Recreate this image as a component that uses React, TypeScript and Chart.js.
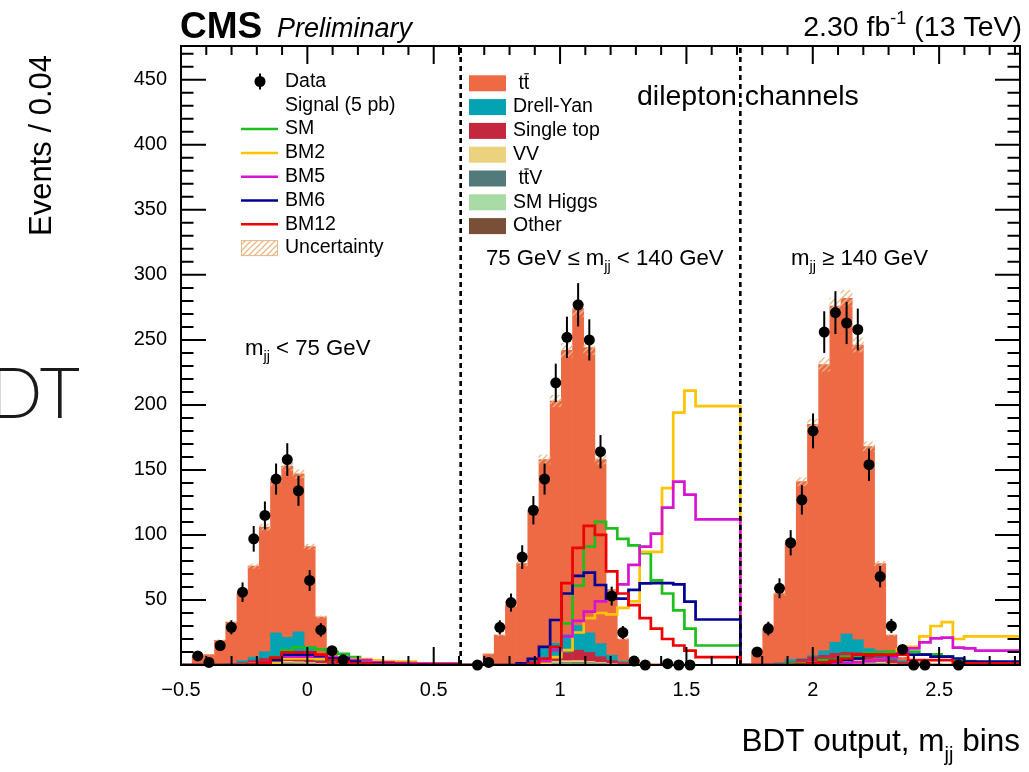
import { useEffect, useRef } from "react";
import { Chart, registerables } from "chart.js";

Chart.register(...registerables);

// ---- binning: three m_jj regions, 25 BDT bins each ----
const X_MIN = -0.5;
const X_MAX = 2.82;
const N_BINS = 75;
const Y_MAX = 476;
const BIN_W = (X_MAX - X_MIN) / N_BINS;

const X_TICK_VALUES = [-0.5, 0, 0.5, 1, 1.5, 2, 2.5];
const X_TICK_LABELS = ["\u22120.5", "0", "0.5", "1", "1.5", "2", "2.5"];
const Y_TICK_VALUES = [50, 100, 150, 200, 250, 300, 350, 400, 450];
const Y_TICK_LABELS = ["50", "100", "150", "200", "250", "300", "350", "400", "450"];

// ---- observed data (null = bin not drawn) ----
const dataLow = [null, 7, 2, 15, 29, 56, 97, 115, 143, 158, 134, 65, 27, 11, 4, null, null, null, null, null, null, null, null, null, null];
const dataMid = [null, 0, 2, 29, 48, 83, 119, 143, 217, 252, 277, 250, 164, 53, 25, 3, 0, null, 1, 0, 0, null, null, null, null];
const dataHigh = [null, 10, 28, 59, 94, 127, 180, 256, 271, 263, 258, 154, 68, 30, 12, 0, 0, null, null, 0, null, null, null, null, null];

// ---- background processes ----
const ttbarLow = [0, 7, 8, 18.5, 31.7, 51.7, 70, 95.8, 116.3, 131.7, 121.5, 77.1, 30.9, 7, 3.3, 2.3, 1.9, 1.4, 1.0, 0.7, 0.5, 0.4, 0.3, 0.2, 0.2];
const ttbarMid = [0, 1, 8.5, 22.5, 45.3, 76.6, 114.2, 145.4, 186.3, 218.7, 243.6, 219.3, 141.6, 50.5, 17.1, 3.1, 1, 0.8, 0.6, 0.5, 0.4, 0.3, 0.3, 0.2, 0.2];
const ttbarHigh = [0, 11, 27.3, 53.1, 89.7, 136.1, 177.8, 220.1, 258.5, 258.2, 226.6, 155.3, 67, 15, 2.7, 0.8, 0.9, 0.8, 0.6, 0.5, 0.4, 0.3, 0.3, 0.2, 0.2];

const dyLow = [0, 0, 0, 0, 0.5, 1.5, 2.5, 5, 18, 14, 19, 9, 3, 1, 0.5, 0, 0, 0, 0, 0, 0, 0, 0, 0, 0];
const dyMid = [0, 0, 0, 0.5, 0.5, 0.5, 2, 8, 10, 14, 19, 15, 10, 4, 1, 0, 0, 0, 0, 0, 0, 0, 0, 0, 0];
const dyHigh = [0, 0, 0, 0.5, 2, 0.5, 1, 3.5, 8.5, 14, 10, 5, 5, 4, 1, 0, 0, 0, 0, 0, 0, 0, 0, 0, 0];

const stLow = [0, 0, 0, 0.5, 0.5, 1, 2, 3, 4, 4.5, 4, 3, 2, 1.5, 1, 0.5, 0.5, 0.5, 0.5, 0.3, 0.3, 0.3, 0.3, 0.3, 0.3];
const stMid = [0, 0, 0, 0, 0, 0.5, 1.5, 2.5, 4, 6, 8, 7, 4.5, 2.5, 1.5, 0.8, 0.5, 0.2, 0.2, 0.2, 0.2, 0.2, 0.2, 0.2, 0.2];
const stHigh = [0, 0, 0.5, 1, 1.5, 3, 4, 4.5, 5.5, 6, 6, 5, 4, 3, 2, 1, 0.5, 0.2, 0.2, 0.2, 0.2, 0.2, 0.2, 0.2, 0.2];

const vvLow = [0, 0, 0, 0, 0.3, 0.5, 0.8, 1, 1.2, 1.2, 1, 0.8, 0.5, 0.3, 0.2, 0.2, 0.1, 0.1, 0, 0, 0, 0, 0, 0, 0];
const vvMid = [0, 0, 0, 0, 0.2, 0.4, 0.8, 1, 1.2, 1.4, 1.3, 1, 0.7, 0.4, 0.2, 0.1, 0, 0, 0, 0, 0, 0, 0, 0, 0];
const vvHigh = [0, 0, 0.2, 0.4, 0.6, 0.8, 1, 1.2, 1.3, 1.3, 1.2, 1, 0.8, 0.5, 0.3, 0.2, 0.1, 0, 0, 0, 0, 0, 0, 0, 0];

const ttvLow = [0, 0, 0, 0, 0, 0, 0.2, 0.3, 0.4, 0.4, 0.4, 0.3, 0.2, 0, 0, 0, 0, 0, 0, 0, 0, 0, 0, 0, 0];
const ttvMid = [0, 0, 0, 0, 0, 0, 0.2, 0.4, 0.5, 0.6, 0.7, 0.6, 0.4, 0.2, 0, 0, 0, 0, 0, 0, 0, 0, 0, 0, 0];
const ttvHigh = [0, 0, 0, 0, 0, 0.2, 0.4, 0.6, 0.8, 0.9, 0.8, 0.6, 0.4, 0.2, 0, 0, 0, 0, 0, 0, 0, 0, 0, 0, 0];

const higgsLow = [0, 0, 0, 0, 0, 0, 0, 0.2, 0.2, 0.2, 0.2, 0.2, 0, 0, 0, 0, 0, 0, 0, 0, 0, 0, 0, 0, 0];
const higgsMid = [0, 0, 0, 0, 0, 0, 0, 0.2, 0.3, 0.4, 0.4, 0.3, 0.2, 0.1, 0, 0, 0, 0, 0, 0, 0, 0, 0, 0, 0];
const higgsHigh = [0, 0, 0, 0, 0, 0, 0.2, 0.3, 0.4, 0.5, 0.4, 0.3, 0.2, 0, 0, 0, 0, 0, 0, 0, 0, 0, 0, 0, 0];

const otherLow = [0, 0, 0, 0, 0, 0.3, 0.5, 0.7, 0.9, 1, 0.9, 0.6, 0.4, 0.2, 0, 0, 0, 0, 0, 0, 0, 0, 0, 0, 0];
const otherMid = [0, 0, 0, 0, 0, 0, 0.3, 0.5, 0.7, 0.9, 1, 0.8, 0.6, 0.3, 0.2, 0, 0, 0, 0, 0, 0, 0, 0, 0, 0];
const otherHigh = [0, 0, 0, 0, 0.2, 0.4, 0.6, 0.8, 1, 1.1, 1, 0.8, 0.6, 0.3, 0, 0, 0, 0, 0, 0, 0, 0, 0, 0, 0];

// ---- signal benchmarks (5 pb) ----
const smLow = [0, 0, 0, 0, 0, 0, 0.5, 1.3, 6, 11.5, 13.5, 13.5, 12, 10, 8.5, 6, 2.6, 1.3, 0.5, 0.5, 0.3, 0.3, 0.2, 0.2, 0.2];
const smMid = [0, 0, 0, 0, 0, 0, 0.5, 1.3, 11.5, 32, 61, 91, 110, 105, 97, 92, 86, 65, 55, 42, 28, 15, 15, 15, 15];
const smHigh = [0, 0, 0, 0, 1, 1, 1, 3.8, 3.8, 6.4, 6.4, 9.5, 9.5, 10.3, 10.3, 10.3, 8.2, 8.2, 6.4, 3, 3, 1.3, 1.3, 1.3, 1.3];

const bm2Low = [0, 0, 0, 0, 0, 0, 0, 0.5, 2, 5, 5, 5, 4.6, 4.6, 4.6, 4.6, 4.6, 3.6, 3, 2.6, 2.6, 1.3, 1.3, 1.3, 1.3];
const bm2Mid = [0, 0, 0, 0, 0, 0, 0, 1, 6, 11.5, 25, 36, 40, 39, 44, 49, 87, 87, 136, 194, 211, 199, 199, 199, 199];
const bm2High = [0, 0, 0, 0, 0, 0, 0, 0.5, 1, 1.5, 2, 3, 4, 8, 12, 14, 22, 30, 33, 20, 22, 22, 22, 22, 22];

const bm5Low = [0, 0, 0, 0, 0, 0, 0.5, 1.5, 4, 6.4, 6.4, 6.4, 6.4, 5.6, 5.6, 3.8, 3.8, 2, 2, 1.5, 1.5, 1, 1, 1, 1];
const bm5Mid = [0, 0, 0, 0, 0, 0, 1, 3, 11.5, 22, 34, 41, 49, 55, 62, 77, 91, 101, 121, 141, 131, 112, 112, 112, 112];
const bm5High = [0, 0, 0, 0, 0, 0, 0, 0.5, 1, 1.5, 2, 3, 4, 6, 9, 12.8, 17.4, 20.5, 21, 13.3, 12.8, 11, 11, 11, 11];

const bm6Low = [0, 0, 0, 0, 0, 0, 0.5, 1.5, 3.8, 8, 8, 8, 7, 5, 5, 2.6, 1, 1, 0.8, 0.6, 0.5, 0.5, 0.4, 0.4, 0.3];
const bm6Mid = [0, 0, 0, 0, 0, 1.3, 4.7, 14, 34.6, 55, 68.5, 71, 61.5, 51, 51, 57.7, 62.8, 63, 63, 62, 48.7, 35, 35, 35, 35];
const bm6High = [0, 0, 0, 0, 0, 0.5, 1, 2, 3, 4, 5, 7.7, 7.7, 7.7, 8, 8, 8, 6.4, 6.4, 5, 2.6, 2.6, 2.6, 2.6, 2.6];

const bm12Low = [0, 0, 0, 0, 0, 0, 0.5, 1.5, 5.6, 9.7, 9.7, 9.7, 8, 3.8, 2.6, 1, 1, 0.5, 0.5, 0.3, 0.3, 0.2, 0.2, 0.2, 0.2];
const bm12Mid = [0, 0, 0, 0, 0, 0, 1, 5, 14, 63, 90, 107, 100, 72, 55, 46, 36, 28, 20, 15, 11, 6, 6, 6, 6];
const bm12High = [0, 0, 0, 0, 0, 0.5, 1, 2, 3, 5, 8, 8, 8, 8, 8, 3.8, 3.8, 3.8, 3.8, 1.3, 1.3, 1.3, 1.3, 1.3, 1.3];

// relative systematic uncertainty on the total background
const BKG_UNC = 0.022;

const dataCounts = [...dataLow, ...dataMid, ...dataHigh];

const BACKGROUNDS = [
  { label: "Other", color: "#7a4f38", values: [...otherLow, ...otherMid, ...otherHigh] },
  { label: "SM Higgs", color: "#a8dba6", values: [...higgsLow, ...higgsMid, ...higgsHigh] },
  { label: "ttV", color: "#537a7a", values: [...ttvLow, ...ttvMid, ...ttvHigh] },
  { label: "VV", color: "#ebd27d", values: [...vvLow, ...vvMid, ...vvHigh] },
  { label: "Single top", color: "#c3283f", values: [...stLow, ...stMid, ...stHigh] },
  { label: "Drell-Yan", color: "#03a3b3", values: [...dyLow, ...dyMid, ...dyHigh] },
  { label: "tt", color: "#ed6a45", values: [...ttbarLow, ...ttbarMid, ...ttbarHigh] },
];

const SIGNALS = [
  { label: "SM", color: "#1cbf1c", values: [...smLow, ...smMid, ...smHigh] },
  { label: "BM2", color: "#ffc300", values: [...bm2Low, ...bm2Mid, ...bm2High] },
  { label: "BM5", color: "#d614d2", values: [...bm5Low, ...bm5Mid, ...bm5High] },
  { label: "BM6", color: "#000095", values: [...bm6Low, ...bm6Mid, ...bm6High] },
  { label: "BM12", color: "#f00000", values: [...bm12Low, ...bm12Mid, ...bm12High] },
];

const HATCH_COLOR = "#e7b98a";
const FONT = "'Liberation Sans', Arial, Helvetica, sans-serif";

const binCenter = (i: number) => X_MIN + (i + 0.5) * BIN_W;
const binEdge = (i: number) => X_MIN + i * BIN_W;

type Part = { t: string; font: string; dy?: number };

function drawParts(ctx: CanvasRenderingContext2D, parts: Part[], x: number, y: number, align: "left" | "right") {
  let total = 0;
  for (const p of parts) {
    ctx.font = p.font;
    total += ctx.measureText(p.t).width;
  }
  let cx = align === "right" ? x - total : x;
  ctx.textAlign = "left";
  for (const p of parts) {
    ctx.font = p.font;
    ctx.fillText(p.t, cx, y + (p.dy ?? 0));
    cx += ctx.measureText(p.t).width;
  }
}

// " tt" with an overline on the second t, optionally followed by a suffix
function drawTTbar(ctx: CanvasRenderingContext2D, x: number, y: number, font: string, suffix: string) {
  ctx.font = font;
  ctx.textAlign = "left";
  ctx.textBaseline = "middle";
  const lead = " t";
  const wLead = ctx.measureText(lead).width;
  const wT = ctx.measureText("t").width;
  ctx.fillText(lead + "t" + suffix, x, y);
  ctx.save();
  ctx.strokeStyle = "#000";
  ctx.lineWidth = 1.2;
  ctx.beginPath();
  ctx.moveTo(x + wLead + 0.5, y - 9.5);
  ctx.lineTo(x + wLead + wT - 0.5, y - 9.5);
  ctx.stroke();
  ctx.restore();
}

function makeHatch(ctx: CanvasRenderingContext2D) {
  const c = document.createElement("canvas");
  c.width = 6;
  c.height = 6;
  const g = c.getContext("2d")!;
  g.strokeStyle = HATCH_COLOR;
  g.lineWidth = 1.3;
  g.beginPath();
  g.moveTo(0, 6);
  g.lineTo(6, 0);
  g.moveTo(-3, 3);
  g.lineTo(3, -3);
  g.moveTo(3, 9);
  g.lineTo(9, 3);
  g.stroke();
  return ctx.createPattern(c, "repeat")!;
}

export default function App() {
  const canvasRef = useRef<HTMLCanvasElement | null>(null);

  useEffect(() => {
    const canvas = canvasRef.current;
    if (!canvas) return;
    const ctx0 = canvas.getContext("2d")!;
    const hatch = makeHatch(ctx0);

    const totals = dataCounts.map((_, i) => BACKGROUNDS.reduce((s, b) => s + b.values[i], 0));

    const barSets = BACKGROUNDS.map((b) => ({
      type: "bar" as const,
      label: b.label,
      data: b.values.map((v, i) => ({ x: binCenter(i), y: v })),
      backgroundColor: b.color,
      borderWidth: 0,
      barPercentage: 1,
      categoryPercentage: 1,
      grouped: false,
      xAxisID: "x",
      yAxisID: "y",
      order: 10,
    }));

    const hatchSet = {
      type: "bar" as const,
      label: "Uncertainty",
      data: totals.map((t, i) => ({ x: binCenter(i), y: [t * (1 - BKG_UNC), t * (1 + BKG_UNC)] })),
      backgroundColor: hatch,
      borderWidth: 0,
      barPercentage: 1,
      categoryPercentage: 1,
      grouped: false,
      xAxisID: "x",
      yAxisID: "y2",
      order: 9,
    };

    const lineSets = SIGNALS.map((s, k) => ({
      type: "line" as const,
      label: s.label,
      data: [
        ...s.values.map((v, i) => ({ x: binEdge(i), y: v })),
        { x: binEdge(N_BINS), y: s.values[N_BINS - 1] },
      ],
      borderColor: s.color,
      borderWidth: 2.7,
      borderJoinStyle: "miter" as const,
      borderCapStyle: "butt" as const,
      stepped: true,
      pointRadius: 0,
      fill: false,
      xAxisID: "x",
      yAxisID: "y2",
      order: 8 - k,
    }));

    const dataSet = {
      type: "scatter" as const,
      label: "Data",
      data: dataCounts
        .map((v, i) => (v === null ? null : { x: binCenter(i), y: v }))
        .filter((p) => p !== null),
      backgroundColor: "#000",
      pointBackgroundColor: "#000",
      pointBorderWidth: 0,
      pointRadius: 5.5,
      showLine: false,
      clip: false,
      xAxisID: "x",
      yAxisID: "y2",
      order: 1,
    };

    const errorBars = {
      id: "errorBars",
      afterDatasetsDraw(chart: Chart) {
        const ctx = chart.ctx;
        const xs = chart.scales.x;
        const ys = chart.scales.y2;
        ctx.save();
        ctx.strokeStyle = "#000";
        ctx.lineWidth = 2;
        dataCounts.forEach((v, i) => {
          if (v === null || v <= 0) return;
          const e = Math.sqrt(v);
          const px = xs.getPixelForValue(binCenter(i));
          ctx.beginPath();
          ctx.moveTo(px, ys.getPixelForValue(v - e));
          ctx.lineTo(px, ys.getPixelForValue(v + e));
          ctx.stroke();
        });
        ctx.restore();
      },
    };

    const decor = {
      id: "decor",
      afterDraw(chart: Chart) {
        const ctx = chart.ctx;
        const xs = chart.scales.x;
        const ys = chart.scales.y;
        const { left, right, top, bottom } = chart.chartArea;
        ctx.save();
        ctx.fillStyle = "#000";
        ctx.strokeStyle = "#000";

        // region separators
        ctx.save();
        ctx.lineWidth = 2.6;
        ctx.setLineDash([5, 4]);
        for (const b of [25, 50]) {
          const px = xs.getPixelForValue(binEdge(b));
          ctx.beginPath();
          ctx.moveTo(px, bottom);
          ctx.lineTo(px, top);
          ctx.stroke();
        }
        ctx.restore();

        // frame
        ctx.lineWidth = 2;
        ctx.strokeRect(left, top, right - left, bottom - top);

        // x ticks (bottom + top)
        for (let k = 0; ; k++) {
          const v = X_MIN + k * 0.1;
          if (v > X_MAX + 1e-9) break;
          const px = xs.getPixelForValue(v);
          const len = k % 5 === 0 ? 18 : 9;
          ctx.beginPath();
          ctx.moveTo(px, bottom);
          ctx.lineTo(px, bottom - len);
          ctx.moveTo(px, top);
          ctx.lineTo(px, top + len);
          ctx.stroke();
        }
        // y ticks (left + right)
        for (let v = 0; v <= Y_MAX; v += 10) {
          const py = ys.getPixelForValue(v);
          const len = v % 50 === 0 ? 25 : 12.5;
          ctx.beginPath();
          ctx.moveTo(left, py);
          ctx.lineTo(left + len, py);
          ctx.moveTo(right, py);
          ctx.lineTo(right - len, py);
          ctx.stroke();
        }

        // tick labels
        ctx.font = `20px ${FONT}`;
        ctx.textBaseline = "middle";
        ctx.textAlign = "center";
        X_TICK_VALUES.forEach((v, i) => ctx.fillText(X_TICK_LABELS[i], xs.getPixelForValue(v), 690));
        ctx.textAlign = "right";
        Y_TICK_VALUES.forEach((v, i) => ctx.fillText(Y_TICK_LABELS[i], 167, ys.getPixelForValue(v)));

        // axis titles
        ctx.textBaseline = "alphabetic";
        drawParts(
          ctx,
          [
            { t: "BDT output, m", font: `31.5px ${FONT}` },
            { t: "jj", font: `20px ${FONT}`, dy: 10 },
            { t: " bins", font: `31.5px ${FONT}` },
          ],
          right,
          751,
          "right"
        );
        ctx.save();
        ctx.translate(51, 55);
        ctx.rotate(-Math.PI / 2);
        ctx.font = `31px ${FONT}`;
        ctx.textAlign = "right";
        ctx.fillText("Events / 0.04", 0, 0);
        ctx.restore();

        // header
        ctx.font = `bold 37px ${FONT}`;
        ctx.textAlign = "left";
        ctx.fillText("CMS", 180, 38);
        ctx.font = `italic 27px ${FONT}`;
        ctx.fillText("Preliminary", 277, 37);
        drawParts(
          ctx,
          [
            { t: "2.30 fb", font: `28.5px ${FONT}` },
            { t: "-1", font: `18px ${FONT}`, dy: -12 },
            { t: " (13 TeV)", font: `28.5px ${FONT}` },
          ],
          1022,
          36,
          "right"
        );

        // region labels
        const rf = `22.2px ${FONT}`;
        const sf = `14.5px ${FONT}`;
        drawParts(ctx, [{ t: "m", font: rf }, { t: "jj", font: sf, dy: 6 }, { t: " < 75 GeV", font: rf }], 245, 355, "left");
        drawParts(
          ctx,
          [{ t: "75 GeV \u2264 m", font: rf }, { t: "jj", font: sf, dy: 6 }, { t: " < 140 GeV", font: rf }],
          486,
          265,
          "left"
        );
        drawParts(ctx, [{ t: "m", font: rf }, { t: "jj", font: sf, dy: 6 }, { t: " \u2265 140 GeV", font: rf }], 791, 265, "left");
        ctx.font = `28.5px ${FONT}`;
        ctx.fillText("dilepton channels", 637, 105);

        // legend: data + signals + uncertainty
        const lf = `19.5px ${FONT}`;
        const row = (i: number) => 81.5 + 23.8 * i;
        ctx.font = lf;
        ctx.textBaseline = "middle";
        ctx.textAlign = "left";
        ctx.beginPath();
        ctx.arc(260, row(0), 5.5, 0, Math.PI * 2);
        ctx.fill();
        ctx.lineWidth = 2;
        ctx.beginPath();
        ctx.moveTo(260, row(0) - 8);
        ctx.lineTo(260, row(0) + 8);
        ctx.stroke();
        ctx.fillText("Data", 285, row(0));
        ctx.fillText("Signal (5 pb)", 285, row(1));
        SIGNALS.forEach((s, k) => {
          const y = row(k + 2);
          ctx.strokeStyle = s.color;
          ctx.lineWidth = 2.5;
          ctx.beginPath();
          ctx.moveTo(241, y);
          ctx.lineTo(278, y);
          ctx.stroke();
          ctx.fillText(s.label, 285, y);
        });
        const uy = row(7);
        ctx.fillStyle = hatch;
        ctx.fillRect(241, uy - 8, 37, 16);
        ctx.strokeStyle = HATCH_COLOR;
        ctx.lineWidth = 1;
        ctx.strokeRect(241.5, uy - 7.5, 36, 15);
        ctx.fillStyle = "#000";
        ctx.fillText("Uncertainty", 285, uy);

        // legend: backgrounds, top of stack first
        const bgOrder = [...BACKGROUNDS].reverse();
        const row2 = (i: number) => 83.3 + 23.8 * i;
        bgOrder.forEach((b, i) => {
          const y = row2(i);
          ctx.fillStyle = b.color;
          ctx.fillRect(469, y - 8, 37, 16);
          ctx.fillStyle = "#000";
          if (b.label === "tt") drawTTbar(ctx, 513, y, lf, "");
          else if (b.label === "ttV") drawTTbar(ctx, 513, y, lf, "V");
          else {
            ctx.font = lf;
            ctx.textAlign = "left";
            ctx.textBaseline = "middle";
            ctx.fillText(b.label, 513, y);
          }
        });

        // cropped "BDT" at the left edge
        ctx.font = `300 70px Lato, ${FONT}`;
        ctx.textAlign = "right";
        ctx.textBaseline = "alphabetic";
        ctx.fillStyle = "#1a1a1a";
        ctx.fillText("BDT", 80, 418);

        ctx.restore();
      },
    };

    const chart = new Chart(canvas, {
      type: "bar",
      data: { datasets: [dataSet, ...lineSets, hatchSet, ...barSets] as any },
      options: {
        animation: false,
        responsive: false,
        devicePixelRatio: 1,
        events: [],
        layout: { padding: { left: 181, right: 9, top: 46, bottom: 107 } },
        plugins: { legend: { display: false }, tooltip: { enabled: false } },
        scales: {
          x: { type: "linear", min: X_MIN, max: X_MAX, display: false, stacked: true, offset: false },
          y: { type: "linear", min: 0, max: Y_MAX, display: false, stacked: true },
          y2: { type: "linear", min: 0, max: Y_MAX, display: false },
        },
      } as any,
      plugins: [errorBars, decor],
    });

    return () => chart.destroy();
  }, []);

  return (
    <div style={{ position: "absolute", left: 0, top: 0, width: 1029, height: 772, background: "#fff" }}>
      <canvas ref={canvasRef} width={1029} height={772} style={{ display: "block" }} />
    </div>
  );
}
